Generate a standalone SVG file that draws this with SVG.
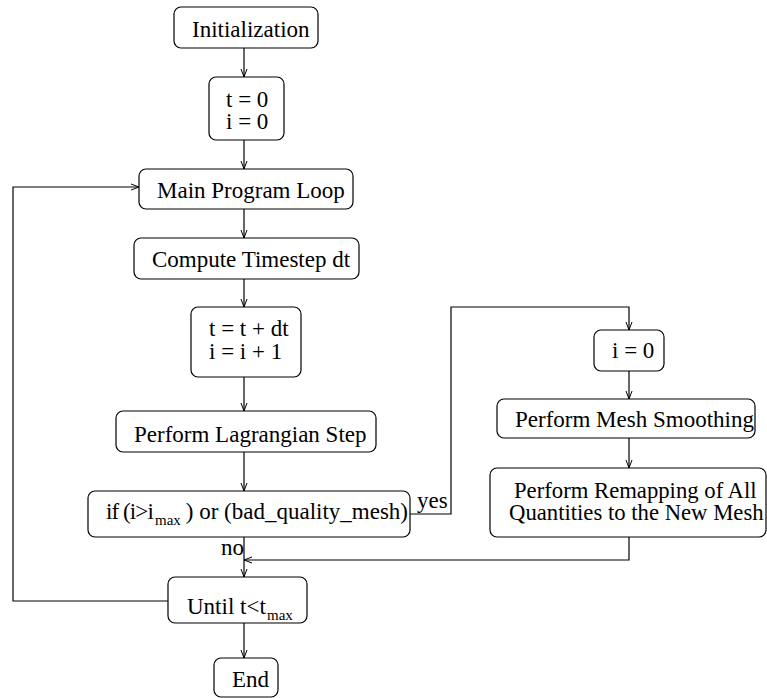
<svg xmlns="http://www.w3.org/2000/svg" width="767" height="698" viewBox="0 0 767 698">
<style>
.box{fill:#fff;stroke:#000;stroke-width:1.2}
.t{font-family:"Liberation Serif","Times New Roman","DejaVu Serif",serif;font-size:23px;fill:#000}
.s{font-size:15px}
.c{fill:none;stroke:#000;stroke-width:1.2}
</style>
<defs>
<marker id="a" markerWidth="10" markerHeight="8" refX="9" refY="4" orient="auto" markerUnits="userSpaceOnUse">
<path d="M1,1 L9,4 L1,7" fill="none" stroke="#000" stroke-width="1"/>
</marker>
</defs>
<rect width="767" height="698" fill="#fff"/>
<g id="connectors">
<path class="c" d="M244,48 V77" marker-end="url(#a)"/>
<path class="c" d="M244,140 V169" marker-end="url(#a)"/>
<path class="c" d="M244,209 V238" marker-end="url(#a)"/>
<path class="c" d="M244,279 V307" marker-end="url(#a)"/>
<path class="c" d="M244,377 V411" marker-end="url(#a)"/>
<path class="c" d="M244,452 V491" marker-end="url(#a)"/>
<path class="c" d="M244,537 V577" marker-end="url(#a)"/>
<path class="c" d="M244,623 V658" marker-end="url(#a)"/>
<path class="c" d="M168,601 H13 V187 H139" marker-end="url(#a)"/>
<path class="c" d="M410,514 H451 V307 H629 V330" marker-end="url(#a)"/>
<path class="c" d="M629,371 V399" marker-end="url(#a)"/>
<path class="c" d="M629,438 V468" marker-end="url(#a)"/>
<path class="c" d="M629,537 V560 H244" marker-end="url(#a)"/>
<text class="t" x="417" y="508">yes</text>
<text class="t" x="221" y="555">no</text>
</g>
<g id="init">
<rect class="box" x="174" y="7" width="144" height="41" rx="7"/>
<text class="t" x="192" y="37">Initialization</text>
</g>
<g id="t0">
<rect class="box" x="209" y="77" width="75" height="63" rx="7"/>
<text class="t" x="226" y="107">t = 0</text>
<text class="t" x="226" y="129">i = 0</text>
</g>
<g id="main">
<rect class="box" x="139" y="169" width="214" height="40" rx="7"/>
<text class="t" x="157" y="198">Main Program Loop</text>
</g>
<g id="compute">
<rect class="box" x="134" y="238" width="225" height="41" rx="7"/>
<text class="t" x="152" y="267">Compute Timestep dt</text>
</g>
<g id="update">
<rect class="box" x="191" y="307" width="110" height="70" rx="7"/>
<text class="t" x="209" y="336">t = t + dt</text>
<text class="t" x="209" y="359">i = i + 1</text>
</g>
<g id="lagrange">
<rect class="box" x="116" y="411" width="260" height="41" rx="7"/>
<text class="t" x="134" y="442">Perform Lagrangian Step</text>
</g>
<g id="cond">
<rect class="box" x="88" y="491" width="322" height="46" rx="7"/>
<text class="t" x="106" y="519"><tspan letter-spacing="-0.9">if (i&gt;i</tspan><tspan class="s" x="155" dy="6">max</tspan><tspan x="180" dy="-6"> ) or (bad_quality_mesh)</tspan></text>
</g>
<g id="until">
<rect class="box" x="168" y="577" width="139" height="46" rx="7"/>
<text class="t" x="187" y="614">Until t&lt;t<tspan class="s" x="267" dy="6">max</tspan></text>
</g>
<g id="end">
<rect class="box" x="214" y="658" width="64" height="39" rx="7"/>
<text class="t" x="232" y="687">End</text>
</g>
<g id="reset">
<rect class="box" x="594" y="330" width="70" height="41" rx="7"/>
<text class="t" x="612" y="358">i = 0</text>
</g>
<g id="smooth">
<rect class="box" x="497" y="399" width="258" height="39" rx="7"/>
<text class="t" x="515" y="427">Perform Mesh Smoothing</text>
</g>
<g id="remap">
<rect class="box" x="490" y="468" width="276" height="69" rx="7"/>
<text class="t" x="514" y="498" style="font-size:22.7px">Perform Remapping of All</text>
<text class="t" x="509" y="520" style="font-size:22.7px">Quantities to the New Mesh</text>
</g>
</svg>
